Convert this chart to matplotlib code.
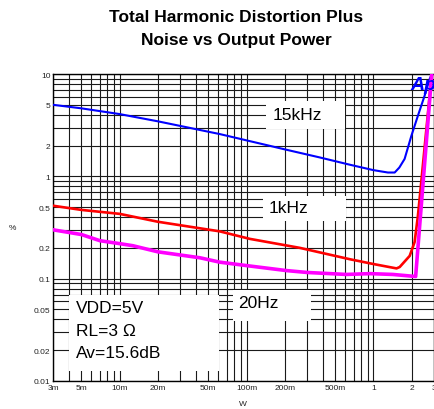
import matplotlib
matplotlib.use("Agg")
import matplotlib.pyplot as plt
from matplotlib.ticker import LogLocator, NullFormatter, FixedLocator
from matplotlib.patches import Rectangle

plt.rcParams['font.family'] = ['Liberation Sans', 'DejaVu Sans']

# 15kHz curve
blue_p = [0.003, 0.005, 0.01, 0.02, 0.0615, 0.206, 0.378, 0.65, 1.0, 1.3, 1.47, 1.6, 1.76, 1.99, 2.24, 2.53, 2.77, 2.88]
blue_v = [5.0, 4.62, 4.06, 3.45, 2.59, 1.82, 1.53, 1.30, 1.15, 1.09, 1.09, 1.22, 1.48, 2.49, 3.91, 6.14, 8.9, 10.0]

# 1kHz curve
red_p = [0.003, 0.005, 0.01, 0.02, 0.0615, 0.106, 0.263, 0.65, 1.0, 1.52, 1.61, 1.93, 2.11, 2.24, 2.33, 2.88]
red_v = [0.516, 0.47, 0.43, 0.36, 0.29, 0.245, 0.20, 0.155, 0.139, 0.126, 0.13, 0.167, 0.228, 0.41, 0.67, 10.0]

# 20Hz curve
mag_p = [0.003, 0.005, 0.007, 0.01, 0.0127, 0.02, 0.043, 0.0615, 0.106, 0.206, 0.3, 0.61, 0.94, 1.42, 2.15, 2.88]
mag_v = [0.30, 0.27, 0.235, 0.22, 0.21, 0.183, 0.16, 0.145, 0.133, 0.12, 0.115, 0.11, 0.112, 0.11, 0.105, 10.0]

x_ticks = [0.003, 0.005, 0.01, 0.02, 0.05, 0.1, 0.2, 0.5, 1, 2, 3]
x_labels = ["3m", "5m", "10m", "20m", "50m", "100m", "200m", "500m", "1", "2", "3"]
y_ticks = [0.01, 0.02, 0.05, 0.1, 0.2, 0.5, 1, 2, 5, 10]
y_labels = ["0.01", "0.02", "0.05", "0.1", "0.2", "0.5", "1", "2", "5", "10"]

fig = plt.figure(figsize=(4.35, 4.10), dpi=100)
ax = fig.add_axes([0.1225, 0.0683, 0.8752, 0.7487])
ax.set_xscale("log")
ax.set_yscale("log")
ax.set_xlim(0.003, 3)
ax.set_ylim(0.01, 10)

ax.xaxis.set_major_locator(FixedLocator(x_ticks))
ax.yaxis.set_major_locator(FixedLocator(y_ticks))
ax.xaxis.set_minor_locator(LogLocator(base=10, subs=range(2, 10), numticks=20))
ax.yaxis.set_minor_locator(LogLocator(base=10, subs=range(2, 10), numticks=20))
ax.xaxis.set_minor_formatter(NullFormatter())
ax.yaxis.set_minor_formatter(NullFormatter())
ax.set_xticklabels(x_labels)
ax.set_yticklabels(y_labels)
ax.tick_params(which="both", length=0, labelsize=6, pad=2, colors="#222222")

ax.grid(which="both", color="#1a1a1a", lw=0.8, zorder=0)
for s in ax.spines.values():
    s.set_linewidth(1.0)
    s.set_color("black")

# white label boxes over the grid
boxes = [
    (0.004, 0.0125, 0.061, 0.07),
    (0.078, 0.0389, 0.32, 0.078),
    (0.134, 0.366, 0.605, 0.646),
    (0.143, 2.9, 0.60, 5.48),
]
for x0, y0, x1, y1 in boxes:
    ax.add_patch(Rectangle((x0, y0), x1 - x0, y1 - y0, facecolor="white",
                           edgecolor="none", zorder=2))

ax.plot(red_p, red_v, color="#ff0000", lw=1.9, zorder=3)
ax.plot(blue_p, blue_v, color="#0000ff", lw=1.5, zorder=4)
ax.plot(mag_p, mag_v, color="#ff00ff", lw=2.6, zorder=5)

ax.text(0.161, 4.06, "15kHz", fontsize=12.5, va="center", ha="left", zorder=6)
ax.text(0.149, 0.50, "1kHz", fontsize=12.5, va="center", ha="left", zorder=6)
ax.text(0.0853, 0.059, "20Hz", fontsize=12.5, va="center", ha="left", zorder=6)
ax.text(0.00453, 0.0527, "VDD=5V", fontsize=12.5, va="center", ha="left", zorder=6)
ax.text(0.00453, 0.031, "RL=3 Ω", fontsize=12.5, va="center", ha="left", zorder=6)
ax.text(0.00453, 0.0192, "Av=15.6dB", fontsize=12.5, va="center", ha="left", zorder=6)

ax.text(0.937, 0.967, "Ap", transform=ax.transAxes, fontsize=14, color="#0000ff",
        fontweight="bold", fontstyle="italic", va="center", ha="left", zorder=7,
        clip_on=True)

fig.text(236 / 435, 1 - 17 / 410, "Total Harmonic Distortion Plus",
         fontsize=12.5, fontweight="bold", ha="center", va="center")
fig.text(236 / 435, 1 - 40 / 410, "Noise vs Output Power",
         fontsize=12.5, fontweight="bold", ha="center", va="center")
fig.text(12 / 435, 1 - 229 / 410, "%", fontsize=6, ha="center", va="center", color="#222222")
fig.text(243 / 435, 1 - 405 / 410, "W", fontsize=6, ha="center", va="center", color="#222222")

fig.savefig("out.png", dpi=100)
